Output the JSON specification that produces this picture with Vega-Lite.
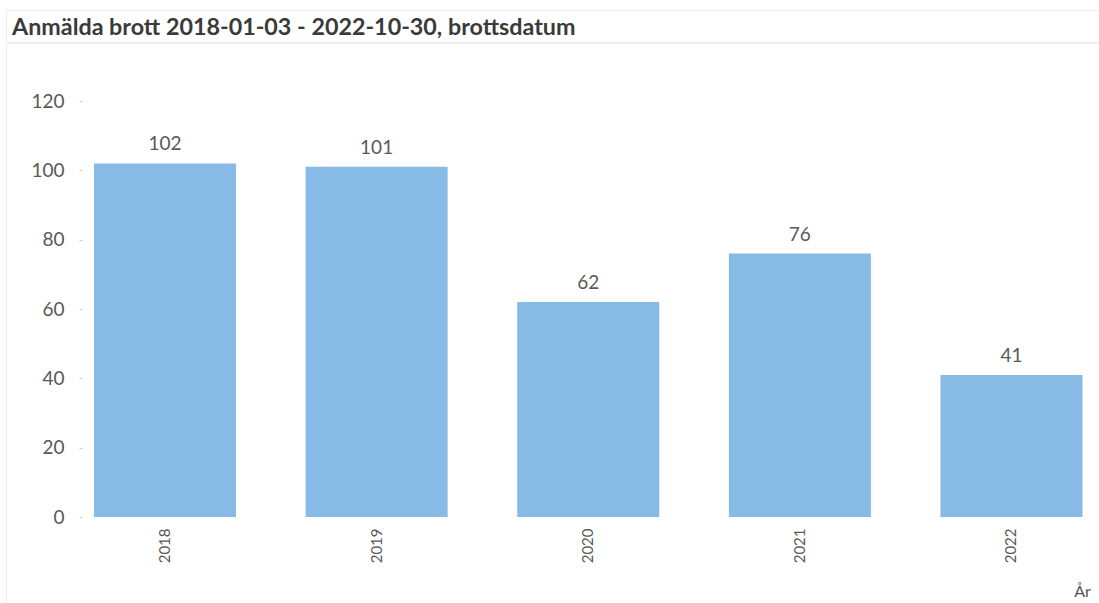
{
"$schema":"https://vega.github.io/schema/vega-lite/v6.json",
"width":1093,"height":593,
"autosize":{"type":"none"},
"padding":{"left":6,"top":10,"right":0,"bottom":0},
"background":"#ffffff",
"title":{"text":"Anmälda brott 2018-01-03 - 2022-10-30, brottsdatum","anchor":"start","frame":"group","font":"Lato","fontSize":23.3,"fontWeight":"bold","color":"#3a3a3a","offset":-30,"dx":6},
"config":{"view":{"stroke":"#eeeeee","strokeWidth":1}},
"data":{"values":[{"År":"2018","Antal":102},{"År":"2019","Antal":101},{"År":"2020","Antal":62},{"År":"2021","Antal":76},{"År":"2022","Antal":41}]},
"encoding":{
"x":{"field":"År","type":"nominal","scale":{"paddingInner":0.329,"paddingOuter":0.247,"align":0.842},
"axis":{"title":"År","titleX":1076,"titleY":66,"titleFont":"Lato","titleFontSize":16,"titleFontWeight":"normal","titleColor":"#555555","labelAngle":-90,"labelFont":"Lato","labelFontSize":15,"labelColor":"#595959","labelPadding":11,"ticks":false,"domain":false,"offset":-86}},
"y":{"field":"Antal","type":"quantitative","scale":{"domain":[-24.8,146.25],"nice":false,"zero":false},
"axis":{"title":null,"values":[0,20,40,60,80,100,120],"grid":false,"domain":false,"tickColor":"#cccccc","tickSize":3,"labelFont":"Lato","labelFontSize":19,"labelColor":"#595959","labelPadding":15,"offset":-76}}
},
"layer":[
{"mark":{"type":"bar","color":"#87bbe5"},"encoding":{"y2":{"datum":0}}},
{"mark":{"type":"text","font":"Lato","fontSize":19,"color":"#595959","baseline":"bottom","dy":-9},"encoding":{"text":{"field":"Antal","type":"quantitative"}}},
{"mark":{"type":"rule","color":"#eeeeee","strokeWidth":1},"encoding":{"x":{"value":0},"x2":{"value":1093},"y":{"datum":136.7}}}
]
}
